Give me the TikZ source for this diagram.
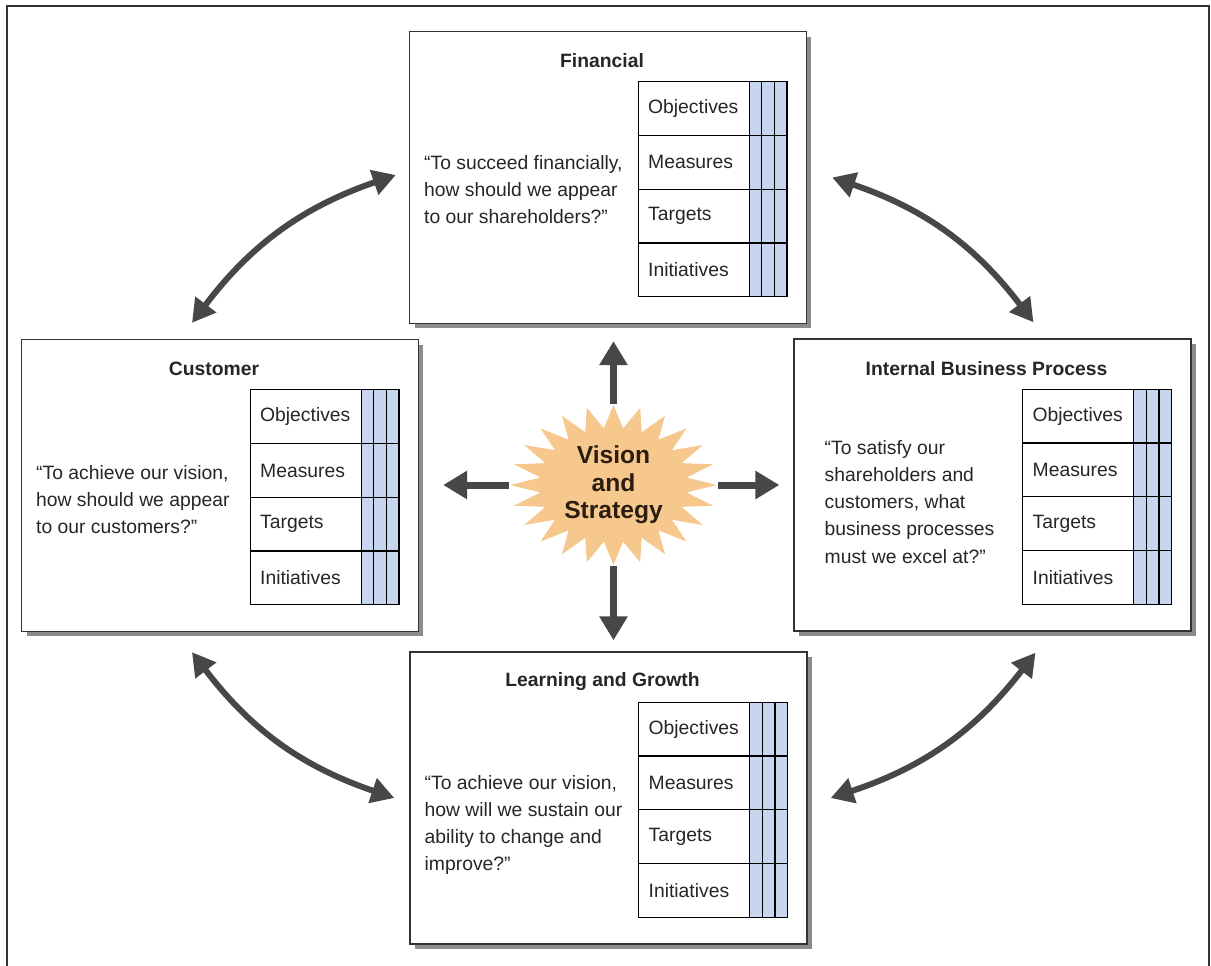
\documentclass[tikz,border=0pt]{standalone}
\usepackage{fontspec}
\setmainfont{Liberation Sans}
\usetikzlibrary{positioning,shapes.geometric,shadows,arrows.meta}
\definecolor{arrowgrey}{HTML}{474747}
\definecolor{burstorange}{HTML}{F7C88E}
\definecolor{burstbrown}{HTML}{2B1D10}
\definecolor{cellblue}{HTML}{C8D5EF}
\begin{document}
\begin{tikzpicture}
[x=0.02cm, y=-0.02cm,%
  panel/.style={shape=rectangle,draw=black!80,line width=0.8pt,fill=white,
    minimum width=7.94cm,minimum height=5.84cm,inner sep=0pt,
    drop shadow={shadow xshift=0.1cm,shadow yshift=-0.1cm,fill=black!45,opacity=1}},%
  paneltitle/.style={font=\bfseries\fontsize{11}{13}\selectfont,text=black!85,inner sep=0pt},%
  question/.style={font=\fontsize{11}{15.4}\selectfont,text=black!85,align=left,
    inner sep=0pt,anchor=west},%
  labelcell/.style={shape=rectangle,draw=black,line width=0.7pt,text width=1.82cm,
    inner xsep=0.2cm,inner ysep=0pt,minimum height=1.075cm,align=left,outer sep=0pt,
    font=\fontsize{11}{13}\selectfont,text=black!85,anchor=north west},%
  bluecell/.style={shape=rectangle,draw=black,line width=0.7pt,fill=cellblue,
    minimum width=0.253cm,minimum height=1.075cm,inner sep=0pt,outer sep=0pt},%
  burst/.style={shape=star,star points=24,star point ratio=1.4,minimum size=3.2cm,
    inner sep=0pt,fill=burstorange,xscale=1.29,transform shape},%
  bursttext/.style={font=\bfseries\fontsize{14}{15.6}\selectfont,text=burstbrown,
    align=center,inner sep=0pt},%
  fatarrow/.style={-{Triangle[width=0.54cm,length=0.48cm]},line width=0.14cm,draw=arrowgrey},%
  bentarrow/.style={{Triangle[width=0.5cm,length=0.46cm]}-{Triangle[width=0.5cm,length=0.46cm]},
    line width=0.12cm,draw=arrowgrey}]
\useasboundingbox (0,0) rectangle (1211,966);
%% outer frame
\draw[line width=1.1pt,draw=black!80] (7,966) -- (7,6) -- (1209,6) -- (1209,966);
%% the four perspectives
\foreach \b/\x/\y in {fin/608/177.5, cus/220/485.5, ibp/992.5/485, lag/608.5/798} {
  \node (\b) [panel] at (\x,\y) {};
  \node (\b-title) [paneltitle] at ([shift={(-6,30)}]\b.north) {};
}
\node [paneltitle] at (fin-title) {Financial};
\node [paneltitle] at (cus-title) {Customer};
\node [paneltitle] at (ibp-title) {Internal Business Process};
\node [paneltitle] at (lag-title) {Learning and Growth};
%% questions
\node (fin-q) [question] at ([shift={(15,12.5)}]fin.west)
  {“To succeed financially,\\how should we appear\\to our shareholders?”};
\node (cus-q) [question] at ([shift={(15,14.5)}]cus.west)
  {“To achieve our vision,\\how should we appear\\to our customers?”};
\node (ibp-q) [question] at ([shift={(31,17)}]ibp.west)
  {“To satisfy our\\shareholders and\\customers, what\\business processes\\must we excel at?”};
\node (lag-q) [question] at ([shift={(15,27)}]lag.west)
  {“To achieve our vision,\\how will we sustain our\\ability to change and\\improve?”};
%% scorecard tables
\foreach \b in {fin, cus, ibp, lag} {
  \foreach \r/\rtext [count=\i from 0] in {obj/Objectives, mea/Measures,
    tar/Targets, ini/Initiatives} {
    \node (\b-\r) [labelcell] at ([shift={(-169,{51+\i*53.75})}]\b.north east) {\rtext};
    \node (\b-\r-a) [bluecell, right=0pt of \b-\r] {};
    \node (\b-\r-b) [bluecell, right=0pt of \b-\r-a] {};
    \node (\b-\r-c) [bluecell, right=0pt of \b-\r-b] {};
  }
}
%% vision and strategy
\node (vision) [shift={(613.5,485)}, burst] at (0,0) {};
\node (vision-label) [bursttext] at (vision.center) {Vision\\and\\Strategy};
%% arrows
\draw[fatarrow, shorten >=0.34cm] (vision.north) -- (vision.north |- fin.south);
\draw[fatarrow, shorten >=0.22cm] (vision.south) -- (vision.south |- lag.north);
\draw[fatarrow, shorten >=0.48cm] (vision.west) -- (vision.west -| cus.east);
\draw[fatarrow, shorten >=0.28cm] (vision.east) -- (vision.east -| ibp.west);
\draw[bentarrow] ([shift={(-28,-16)}]cus.north) to[bend left=17] ([shift={(-13,-2.5)}]fin.west);
\draw[bentarrow] ([shift={(25,0)}]fin.east) to[bend left=17] ([shift={(41,-16)}]ibp.north);
\draw[bentarrow] ([shift={(-28,20)}]cus.south) to[bend right=17] ([shift={(-15,0)}]lag.west);
\draw[bentarrow] ([shift={(23,0)}]lag.east) to[bend right=17] ([shift={(43,21)}]ibp.south);
\end{tikzpicture}
\end{document}
